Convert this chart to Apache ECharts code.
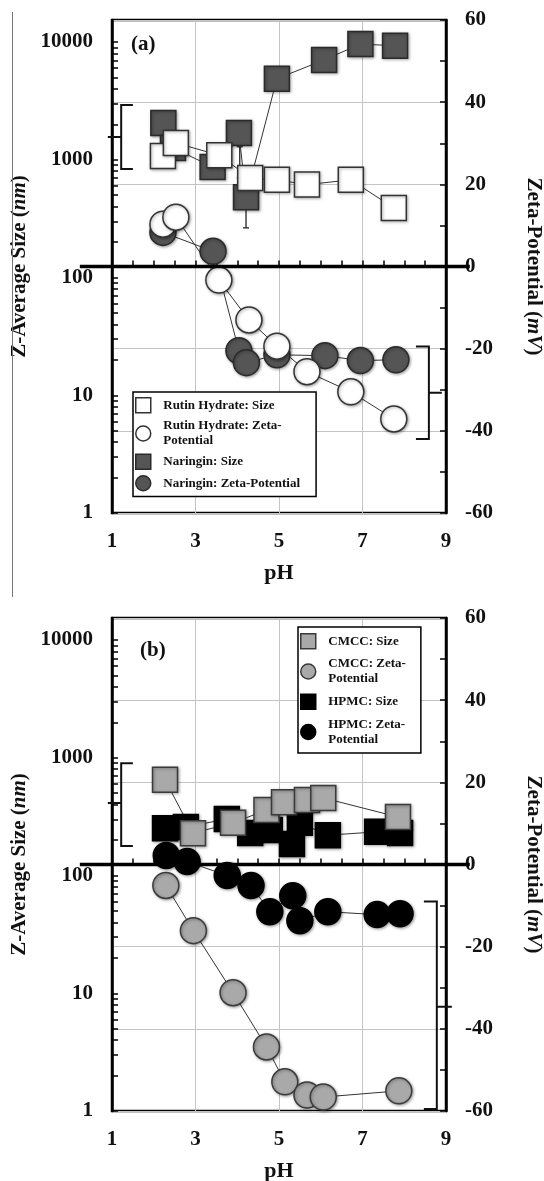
<!DOCTYPE html>
<html>
<head>
<meta charset="utf-8">
<script src="https://cdn.jsdelivr.net/npm/echarts@6/dist/echarts.min.js"></script>
<style>
html, body { margin: 0; padding: 0; background: #fff; }
#chart { width: 544px; height: 1181px; }
</style>
</head>
<body>
<div id="chart"></div>
<script>
// panel (a)
const rutinSizePH = [2.22, 2.53, 3.57, 4.31, 4.95, 5.67, 6.72, 7.75];
const rutinSize = [1075, 1390, 1090, 700, 675, 615, 675, 390];
const rutinZetaPH = [2.22, 2.53, 3.56, 4.28, 4.95, 5.67, 6.72, 7.75];
const rutinZeta = [10.3, 12.0, -3.3, -13.0, -19.4, -25.6, -30.5, -37.1];
const naringinSizePH = [2.23, 2.46, 3.41, 4.04, 4.21, 4.95, 6.08, 6.95, 7.78];
const naringinSize = [2050, 1260, 870, 1690, 480, 4870, 7050, 9600, 9300];
const naringinZetaPH = [2.22, 3.42, 4.04, 4.22, 4.95, 6.1, 6.95, 7.8];
const naringinZeta = [8.3, 3.7, -20.5, -23.4, -21.5, -21.7, -22.9, -22.7];
// error bars (a)
const errPH = [4.06, 4.21];
const errLow = [700, 264];
const errHigh = [1290, 480];

// panel (b)
const cmccSizePH = [2.27, 2.94, 3.9, 4.7, 5.12, 5.67, 6.06, 7.85];
const cmccSize = [650, 229, 280, 360, 418, 437, 456, 314];
const cmccZetaPH = [2.29, 2.95, 3.9, 4.7, 5.14, 5.67, 6.06, 7.87];
const cmccZeta = [-5.1, -16.1, -31.2, -44.4, -52.9, -56.1, -56.6, -55.1];
const hpmcSizePH = [2.27, 2.77, 3.75, 4.31, 4.78, 5.31, 5.5, 6.17, 7.35, 7.9];
const hpmcSize = [252, 258, 302, 230, 243, 185, 280, 220, 235, 230];
const hpmcZetaPH = [2.3, 2.8, 3.76, 4.33, 4.78, 5.33, 5.5, 6.17, 7.35, 7.9];
const hpmcZeta = [2.2, 0.7, -2.7, -5.1, -11.5, -7.6, -13.7, -11.5, -12.2, -12.0];

// axes
const sizeTickLabels = [1, 10, 100, 1000, 10000];
const zetaTickLabels = [-60, -40, -20, 0, 20, 40, 60];
const phTickLabels = [1, 3, 5, 7, 9];

const FONT = "'Liberation Serif', 'DejaVu Serif', serif";
const GRID_C = '#c4c4c4';

let sizeMinorTicks = [];
for (let d = 1; d <= 10000; d *= 10) {
    for (let k = 1; k <= 9; k++) {
        if (d * k <= 15000) sizeMinorTicks.push(d * k);
    }
}

function pairs(xs, ys) {
    return xs.map((x, i) => [x, ys[i]]);
}

function makeX(gi) {
    return {
        type: 'value', gridIndex: gi, min: 1, max: 9, interval: 2,
        name: 'pH', nameLocation: 'middle', nameGap: 49,
        nameTextStyle: { fontFamily: FONT, fontWeight: 'bold', fontSize: 22, color: '#111' },
        axisLine: { lineStyle: { color: '#000', width: 2.5 } },
        axisTick: { inside: true, length: 6, lineStyle: { color: '#000', width: 1.5 } },
        minorTick: { show: true, splitNumber: 4, length: 6, lineStyle: { color: '#000', width: 1.5 } },
        axisLabel: {
            margin: 18, fontFamily: FONT, fontWeight: 'bold', fontSize: 21, color: '#111',
            customValues: phTickLabels
        },
        splitLine: { show: true, lineStyle: { color: GRID_C, width: 1 } }
    }
}

function makeLogY(gi) {
    return {
        type: 'log', gridIndex: gi, logBase: 10, min: 1, max: 15380, position: 'left',
        name: '{b|Z-Average Size (}{i|nm}{b|)}', nameLocation: 'middle', nameGap: 74,
        nameTextStyle: {
            rich: {
                b: { fontFamily: FONT, fontWeight: 'bold', fontSize: 21, color: '#111' },
                i: { fontFamily: FONT, fontWeight: 'bold', fontStyle: 'italic', fontSize: 21, color: '#111' }
            }
        },
        axisLine: { show: true, lineStyle: { color: '#000', width: 2.5 } },
        axisTick: { show: true, inside: true, length: 6, customValues: sizeMinorTicks, lineStyle: { color: '#000', width: 1.5 } },
        axisLabel: {
            margin: 19, fontFamily: FONT, fontWeight: 'bold', fontSize: 21, color: '#111',
            customValues: sizeTickLabels,
            formatter: v => String(Math.round(v))
        },
        splitLine: { show: false }
    }
}

function makeZetaY(gi) {
    return {
        type: 'value', gridIndex: gi, min: -60, max: 60, interval: 20, position: 'right',
        name: '{b|Zeta-Potential (}{i|mV}{b|)}', nameLocation: 'middle', nameGap: 77, nameRotate: -90,
        nameTextStyle: {
            rich: {
                b: { fontFamily: FONT, fontWeight: 'bold', fontSize: 21, color: '#111' },
                i: { fontFamily: FONT, fontWeight: 'bold', fontStyle: 'italic', fontSize: 21, color: '#111' }
            }
        },
        axisLine: { show: true, lineStyle: { color: '#000', width: 2.5 } },
        axisTick: { inside: true, length: 6, lineStyle: { color: '#000', width: 1.5 } },
        minorTick: { show: true, splitNumber: 2, length: 6, lineStyle: { color: '#000', width: 1.5 } },
        axisLabel: {
            margin: 19, fontFamily: FONT, fontWeight: 'bold', fontSize: 21, color: '#111',
            customValues: zetaTickLabels
        },
        splitLine: { show: true, lineStyle: { color: GRID_C, width: 1 } }
    }
}

const shadow = { shadowBlur: 3, shadowColor: 'rgba(0,0,0,0.35)', shadowOffsetX: 1, shadowOffsetY: 1 };

function series(name, xi, yi, xs, ys, symbol, fill, border) {
    return {
        name: name, type: 'line', xAxisIndex: xi, yAxisIndex: yi,
        data: pairs(xs, ys),
        symbol: symbol, symbolSize: symbol === 'rect' ? 25 : 26,
        showAllSymbol: true,
        lineStyle: { color: '#333', width: 1 },
        itemStyle: Object.assign({ color: fill, borderColor: border, borderWidth: 1.5 }, shadow),
        emphasis: { disabled: true },
        z: 3
    }
}

const SQUARE = 'path://M0,0h10v10h-10z';
const legendText = {
    'Rutin Hydrate: Size': 'Rutin Hydrate: Size',
    'Rutin Hydrate: Zeta-Potential': 'Rutin Hydrate: Zeta-\nPotential',
    'Naringin: Size': 'Naringin: Size',
    'Naringin: Zeta-Potential': 'Naringin: Zeta-Potential',
    'CMCC: Size': 'CMCC: Size',
    'CMCC: Zeta-Potential': 'CMCC: Zeta-\nPotential',
    'HPMC: Size': 'HPMC: Size',
    'HPMC: Zeta-Potential': 'HPMC: Zeta-\nPotential'
};

function legendItem(name, icon, fill, border) {
    return { name: name, icon: icon, itemStyle: { color: fill, borderColor: border, borderWidth: 1.5 } };
}

function makeLegend(left, top, pad, gap, items) {
    return {
        orient: 'vertical', left: left, top: top, padding: pad, itemGap: gap,
        itemWidth: 30, itemHeight: 15, symbolKeepAspect: true,
        borderColor: '#000', borderWidth: 1.5, backgroundColor: '#fff',
        selectedMode: false,
        formatter: n => legendText[n],
        textStyle: { fontFamily: FONT, fontWeight: 'bold', fontSize: 13, lineHeight: 15, color: '#111' },
        data: items
    }
}

const WHITE = '#ffffff', DARK = '#555555', GRAY = '#a9a9a9', BLACK = '#000000';

let myChart = echarts.init(document.getElementById('chart'));
myChart.setOption({
    animation: false,
    backgroundColor: '#fff',
    title: [
        { text: '(a)', left: 126, top: 29, textStyle: { fontFamily: FONT, fontWeight: 'bold', fontSize: 21, color: '#111' } },
        { text: '(b)', left: 135, top: 635, textStyle: { fontFamily: FONT, fontWeight: 'bold', fontSize: 21, color: '#111' } }
    ],
    grid: [
        { left: 112, top: 20, width: 334, height: 493, show: true, borderColor: '#000', borderWidth: 2.5, outerBoundsMode: 'none' },
        { left: 112, top: 618, width: 334, height: 493, show: true, borderColor: '#000', borderWidth: 2.5, outerBoundsMode: 'none' }
    ],
    xAxis: [makeX(0), makeX(1)],
    yAxis: [makeLogY(0), makeZetaY(0), makeLogY(1), makeZetaY(1)],
    legend: [
        makeLegend(133, 392, [5, 16, 5, 2], 5, [
            legendItem('Rutin Hydrate: Size', SQUARE, WHITE, '#333'),
            legendItem('Rutin Hydrate: Zeta-Potential', 'circle', WHITE, '#333'),
            legendItem('Naringin: Size', SQUARE, DARK, '#2a2a2a'),
            legendItem('Naringin: Zeta-Potential', 'circle', DARK, '#2a2a2a')
        ]),
        makeLegend(298, 627, [6, 15, 6, 2], 7, [
            legendItem('CMCC: Size', SQUARE, GRAY, '#3a3a3a'),
            legendItem('CMCC: Zeta-Potential', 'circle', GRAY, '#3a3a3a'),
            legendItem('HPMC: Size', SQUARE, BLACK, BLACK),
            legendItem('HPMC: Zeta-Potential', 'circle', BLACK, BLACK)
        ])
    ],
    series: [
        {
            type: 'custom', xAxisIndex: 0, yAxisIndex: 0, z: 3,
            data: errPH.map((x, i) => [x, errLow[i], errHigh[i]]),
            encode: { x: 0, y: [1, 2] },
            renderItem: function (params, api) {
                let x = api.value(0);
                let p1 = api.coord([x, api.value(1)]);
                let p2 = api.coord([x, api.value(2)]);
                let st = { stroke: '#222', lineWidth: 1.3 };
                return {
                    type: 'group', children: [
                        { type: 'line', shape: { x1: p1[0], y1: p1[1], x2: p2[0], y2: p2[1] }, style: st },
                        { type: 'line', shape: { x1: p1[0] - 3, y1: p1[1], x2: p1[0] + 3, y2: p1[1] }, style: st },
                        { type: 'line', shape: { x1: p2[0] - 3, y1: p2[1], x2: p2[0] + 3, y2: p2[1] }, style: st }
                    ]
                };
            }
        },
        series('Naringin: Size', 0, 0, naringinSizePH, naringinSize, 'rect', DARK, '#2a2a2a'),
        series('Naringin: Zeta-Potential', 0, 1, naringinZetaPH, naringinZeta, 'circle', DARK, '#2a2a2a'),
        series('Rutin Hydrate: Size', 0, 0, rutinSizePH, rutinSize, 'rect', WHITE, '#333'),
        series('Rutin Hydrate: Zeta-Potential', 0, 1, rutinZetaPH, rutinZeta, 'circle', WHITE, '#333'),
        series('HPMC: Size', 1, 2, hpmcSizePH, hpmcSize, 'rect', BLACK, BLACK),
        series('HPMC: Zeta-Potential', 1, 3, hpmcZetaPH, hpmcZeta, 'circle', BLACK, BLACK),
        series('CMCC: Size', 1, 2, cmccSizePH, cmccSize, 'rect', GRAY, '#3a3a3a'),
        series('CMCC: Zeta-Potential', 1, 3, cmccZetaPH, cmccZeta, 'circle', GRAY, '#3a3a3a')
    ]
});

// zero lines and the brackets that point to each axis
function px(gi, yi, x, y) {
    return myChart.convertToPixel({ xAxisIndex: gi, yAxisIndex: yi }, [x, y]);
}
function bracket(gi, yi, xv, serifX, tipX, yTop, yBot, yMid) {
    return {
        type: 'polyline', z: 10,
        shape: {
            points: [
                px(gi, yi, serifX, yTop), px(gi, yi, xv, yTop), px(gi, yi, xv, yMid),
                px(gi, yi, tipX, yMid), px(gi, yi, xv, yMid), px(gi, yi, xv, yBot),
                px(gi, yi, serifX, yBot)
            ]
        },
        style: { stroke: '#111', lineWidth: 2, fill: null }
    }
}
function zeroLine(gi, yi) {
    let a = px(gi, yi, 0.23, 0), b = px(gi, yi, 9.57, 0);
    return {
        type: 'line', z: 10,
        shape: { x1: a[0], y1: a[1], x2: b[0], y2: b[1] },
        style: { stroke: '#000', lineWidth: 3.5 }
    }
}

myChart.setOption({
    graphic: [
        { type: 'line', z: 10, shape: { x1: 12.5, y1: 12, x2: 12.5, y2: 597 }, style: { stroke: '#777', lineWidth: 1 } },
        zeroLine(0, 1),
        zeroLine(1, 3),
        bracket(0, 0, 1.22, 1.50, 0.90, 2920, 835, 1560),
        bracket(0, 1, 8.59, 8.28, 8.90, -19.5, -42, -30.7),
        bracket(1, 2, 1.22, 1.50, 0.90, 900, 178, 413),
        bracket(1, 3, 8.78, 8.47, 9.14, -9.0, -59.5, -34.6)
    ]
});

window.onresize = function () {
    myChart.resize();
};
</script>
</body>
</html>
